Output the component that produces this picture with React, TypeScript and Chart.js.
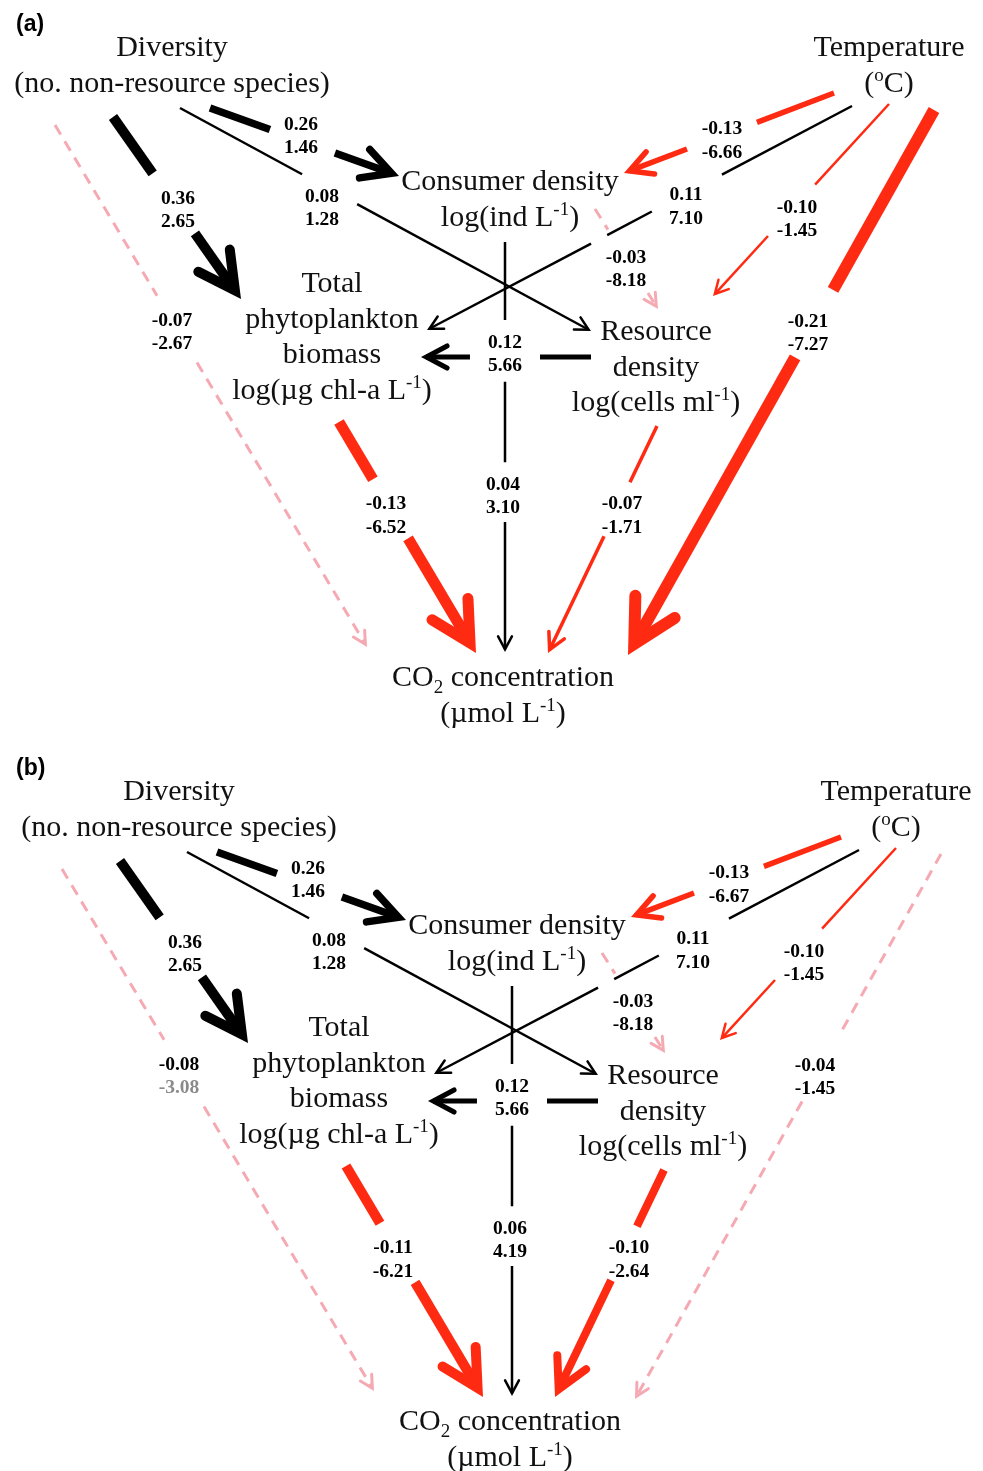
import React, { useEffect, useRef } from 'react';
import { Chart, registerables } from 'chart.js';

Chart.register(...registerables);

// ---------------- data ----------------
const panelTags = ['(a)', '(b)'];

const nodeLabelLines: string[][] = [
  ['Diversity', '(no. non-resource species)'],
  ['Temperature', '(^{o}C)'],
  ['Consumer density', 'log(ind L^{-1})'],
  ['Total', 'phytoplankton', 'biomass', 'log(µg chl-a L^{-1})'],
  ['Resource', 'density', 'log(cells ml^{-1})'],
  ['CO_{2} concentration', '(µmol L^{-1})'],
];

// paths: 0 Div→Cons, 1 Div→Res, 2 Div→Phyto, 3 Div→CO2, 4 Temp→Cons, 5 Temp→Phyto,
// 6 Temp→Res, 7 Temp→CO2, 8 Cons→Res, 9 Res→Phyto, 10 Cons→CO2, 11 Phyto→CO2, 12 Res→CO2
const stdCoefA = [0.26, 0.08, 0.36, -0.07, -0.13, 0.11, -0.10, -0.21, -0.03, 0.12, 0.04, -0.13, -0.07];
const tValueA = [1.46, 1.28, 2.65, -2.67, -6.66, 7.10, -1.45, -7.27, -8.18, 5.66, 3.10, -6.52, -1.71];
const significantA = [1, 1, 1, 0, 1, 1, 1, 1, 0, 1, 1, 1, 1];
const tMutedA = [0, 0, 0, 0, 0, 0, 0, 0, 0, 0, 0, 0, 0];

const stdCoefB = [0.26, 0.08, 0.36, -0.08, -0.13, 0.11, -0.10, -0.04, -0.03, 0.12, 0.06, -0.11, -0.10];
const tValueB = [1.46, 1.28, 2.65, -3.08, -6.67, 7.10, -1.45, -1.45, -8.18, 5.66, 4.19, -6.21, -2.64];
const significantB = [1, 1, 1, 0, 1, 1, 1, 0, 0, 1, 1, 1, 1];
const tMutedB = [0, 0, 0, 1, 0, 0, 0, 0, 0, 0, 0, 0, 0];

// ---------------- layout (diagram geometry, panel-relative units) ----------------
const W = 983;
const H = 1471;
const panelOffsets = [
  { dx: 0, dy: 0 },
  { dx: 7, dy: 744 },
];
const tagPos = [
  { x: 16, y: 31 },
  { x: 16, y: 775 },
];
const nodeAnchor = [
  { x: 172, y: 56 },
  { x: 889, y: 56 },
  { x: 510, y: 190 },
  { x: 332, y: 292 },
  { x: 656, y: 340 },
  { x: 503, y: 686 },
];
const nodeLineGap = 35.5;

const pathStart = [
  [210, 108], [180, 108], [113, 117], [55, 125], [834, 93], [852, 106], [889, 104],
  [934, 110], [595, 209], [591, 357], [505, 242], [339, 422], [657, 426],
];
const pathTip = [
  [399, 176], [591, 331], [241, 299], [367, 647], [624, 173], [427, 330], [713, 296],
  [628, 655], [658, 309], [421, 357], [505, 652], [476, 653], [548, 653],
];
const pathGaps = [
  [[0.317, 0.661]],
  [[0.297, 0.431]],
  [[0.31, 0.64]],
  [[0.327, 0.455]],
  [[0.367, 0.70]],
  [[0.306, 0.471], [0.576, 0.614]],
  [[0.42, 0.6875]],
  [[0.33, 0.454]],
  [[0.206, 0.84]],
  [[0.3, 0.712]],
  [[0.19, 0.341], [0.537, 0.683]],
  [[0.248, 0.504]],
  [[0.248, 0.486]],
];
const labelPos = [
  [301, 123], [322, 195], [178, 197], [172, 319], [722, 127.5], [686, 193.5], [797, 206],
  [808, 320], [626, 256], [505, 341], [503, 483], [386, 502.5], [622, 502.5],
];
const widthA = [7.5, 2.5, 10, 3, 5.5, 2.5, 2.5, 12, 3, 5, 2.5, 11, 3.5];
const widthB = [7.5, 2.5, 10, 3, 5.5, 2.5, 2.5, 3, 3, 5, 2.5, 10, 8];

const COLOR_POS = '#000000';
const COLOR_NEG = '#ff2a12';
const COLOR_NS = '#f5aab3';
const COLOR_MUTED = '#8a8a8a';
const HALF_ANGLE = (28 * Math.PI) / 180;
const LINE_FONT = '"Liberation Serif", "Times New Roman", serif';

const panels = [
  { coef: stdCoefA, t: tValueA, sig: significantA, muted: tMutedA, width: widthA },
  { coef: stdCoefB, t: tValueB, sig: significantB, muted: tMutedB, width: widthB },
];

function edgeStyle(p: number, i: number) {
  const pd = panels[p];
  const sig = pd.sig[i] === 1;
  const color = !sig ? COLOR_NS : pd.coef[i] > 0 ? COLOR_POS : COLOR_NEG;
  const w = sig ? pd.width[i] : 3;
  return { color, w, dashed: !sig };
}

function edgeGeom(p: number, i: number) {
  const off = panelOffsets[p];
  const sx = pathStart[i][0] + off.dx;
  const sy = pathStart[i][1] + off.dy;
  const tx = pathTip[i][0] + off.dx;
  const ty = pathTip[i][1] + off.dy;
  const len = Math.hypot(tx - sx, ty - sy);
  const ux = (tx - sx) / len;
  const uy = (ty - sy) / len;
  return { sx, sy, tx, ty, ux, uy };
}

function buildDatasets() {
  const ds: any[] = [];
  panels.forEach((_, p) => {
    pathStart.forEach((__, i) => {
      const g = edgeGeom(p, i);
      const st = edgeStyle(p, i);
      const back = st.w / 2 / Math.sin(HALF_ANGLE);
      const cx = g.tx - g.ux * back;
      const cy = g.ty - g.uy * back;
      const pt = (t: number) =>
        t >= 1 ? { x: cx, y: cy } : { x: g.sx + (g.tx - g.sx) * t, y: g.sy + (g.ty - g.sy) * t };
      const pieces: number[][] = [];
      let cur = 0;
      pathGaps[i].forEach(([a, b]) => {
        pieces.push([cur, a]);
        cur = b;
      });
      pieces.push([cur, 1]);
      pieces.forEach(([a, b]) => {
        ds.push({
          type: 'line',
          data: [pt(a), pt(b)],
          showLine: true,
          borderColor: st.color,
          backgroundColor: st.color,
          borderWidth: st.w,
          borderDash: st.dashed ? [11, 8] : [],
          borderCapStyle: 'butt',
          pointRadius: 0,
          pointHoverRadius: 0,
          fill: false,
          tension: 0,
        });
      });
    });
  });
  return ds;
}

type Run = { t: string; k: 'n' | 'sup' | 'sub' };
function parseRuns(s: string): Run[] {
  const runs: Run[] = [];
  const re = /\^\{([^}]*)\}|_\{([^}]*)\}/g;
  let last = 0;
  let m: RegExpExecArray | null;
  while ((m = re.exec(s))) {
    if (m.index > last) runs.push({ t: s.slice(last, m.index), k: 'n' });
    if (m[1] !== undefined) runs.push({ t: m[1], k: 'sup' });
    else runs.push({ t: m[2], k: 'sub' });
    last = re.lastIndex;
  }
  if (last < s.length) runs.push({ t: s.slice(last), k: 'n' });
  return runs;
}

function drawRich(ctx: CanvasRenderingContext2D, s: string, cx: number, y: number) {
  const runs = parseRuns(s);
  const fontN = `30px ${LINE_FONT}`;
  const fontS = `19px ${LINE_FONT}`;
  let total = 0;
  const widths = runs.map((r) => {
    ctx.font = r.k === 'n' ? fontN : fontS;
    const w = ctx.measureText(r.t).width;
    total += w;
    return w;
  });
  let x = cx - total / 2;
  runs.forEach((r, j) => {
    ctx.font = r.k === 'n' ? fontN : fontS;
    const dy = r.k === 'sup' ? -11 : r.k === 'sub' ? 7 : 0;
    ctx.fillText(r.t, x, y + dy);
    x += widths[j];
  });
}

const diagramPlugin = {
  id: 'pathDiagram',
  afterDatasetsDraw(chart: any) {
    const ctx: CanvasRenderingContext2D = chart.ctx;
    const xs = chart.scales.x;
    const ys = chart.scales.y;
    const px = (v: number) => xs.getPixelForValue(v);
    const py = (v: number) => ys.getPixelForValue(v);
    ctx.save();

    // arrowheads (open chevrons)
    panels.forEach((_, p) => {
      pathStart.forEach((__, i) => {
        const g = edgeGeom(p, i);
        const st = edgeStyle(p, i);
        const back = st.w / 2 / Math.sin(HALF_ANGLE);
        const cx = g.tx - g.ux * back;
        const cy = g.ty - g.uy * back;
        const L = st.dashed ? 14 : 6 + 3.5 * st.w;
        const ca = Math.cos(HALF_ANGLE);
        const sa = Math.sin(HALF_ANGLE);
        const bx = -g.ux;
        const by = -g.uy;
        const a1x = cx + L * (bx * ca - by * sa);
        const a1y = cy + L * (bx * sa + by * ca);
        const a2x = cx + L * (bx * ca + by * sa);
        const a2y = cy + L * (-bx * sa + by * ca);
        ctx.beginPath();
        ctx.moveTo(px(a1x), py(a1y));
        ctx.lineTo(px(cx), py(cy));
        ctx.lineTo(px(a2x), py(a2y));
        ctx.strokeStyle = st.color;
        ctx.lineWidth = st.w;
        ctx.lineJoin = 'miter';
        ctx.miterLimit = 10;
        ctx.lineCap = 'round';
        ctx.setLineDash([]);
        ctx.stroke();
      });
    });

    // node labels
    ctx.fillStyle = '#111111';
    ctx.textAlign = 'left';
    ctx.textBaseline = 'alphabetic';
    panels.forEach((_, p) => {
      const off = panelOffsets[p];
      nodeLabelLines.forEach((lines, n) => {
        lines.forEach((line, k) => {
          drawRich(
            ctx,
            line,
            px(nodeAnchor[n].x + off.dx),
            py(nodeAnchor[n].y + off.dy + k * nodeLineGap)
          );
        });
      });
    });

    // coefficient labels
    ctx.textAlign = 'center';
    ctx.font = `bold 19.5px ${LINE_FONT}`;
    panels.forEach((pd, p) => {
      const off = panelOffsets[p];
      labelPos.forEach(([lx, ly], i) => {
        const x = px(lx + off.dx);
        ctx.fillStyle = '#000000';
        ctx.fillText(pd.coef[i].toFixed(2), x, py(ly + off.dy + 6.5));
        ctx.fillStyle = pd.muted[i] ? COLOR_MUTED : '#000000';
        ctx.fillText(pd.t[i].toFixed(2), x, py(ly + off.dy + 30));
      });
    });

    // panel tags
    ctx.textAlign = 'left';
    ctx.fillStyle = '#000000';
    ctx.font = 'bold 23px "Liberation Sans", Arial, sans-serif';
    panelTags.forEach((tag, p) => {
      ctx.fillText(tag, px(tagPos[p].x), py(tagPos[p].y));
    });
    ctx.restore();
  },
};

export default function App() {
  const ref = useRef<HTMLCanvasElement | null>(null);
  useEffect(() => {
    document.body.style.margin = '0';
    const canvas = ref.current!;
    const chart = new Chart(canvas, {
      type: 'scatter',
      data: { datasets: buildDatasets() },
      options: {
        responsive: false,
        animation: false,
        events: [],
        layout: { padding: 0 },
        scales: {
          x: { type: 'linear', min: 0, max: W, display: false },
          y: { type: 'linear', min: 0, max: H, reverse: true, display: false },
        },
        plugins: { legend: { display: false }, tooltip: { enabled: false } },
      },
      plugins: [diagramPlugin],
    } as any);
    return () => chart.destroy();
  }, []);
  return (
    <div style={{ position: 'absolute', left: 0, top: 0, background: '#ffffff' }}>
      <canvas ref={ref} width={W} height={H} style={{ display: 'block' }} />
    </div>
  );
}
